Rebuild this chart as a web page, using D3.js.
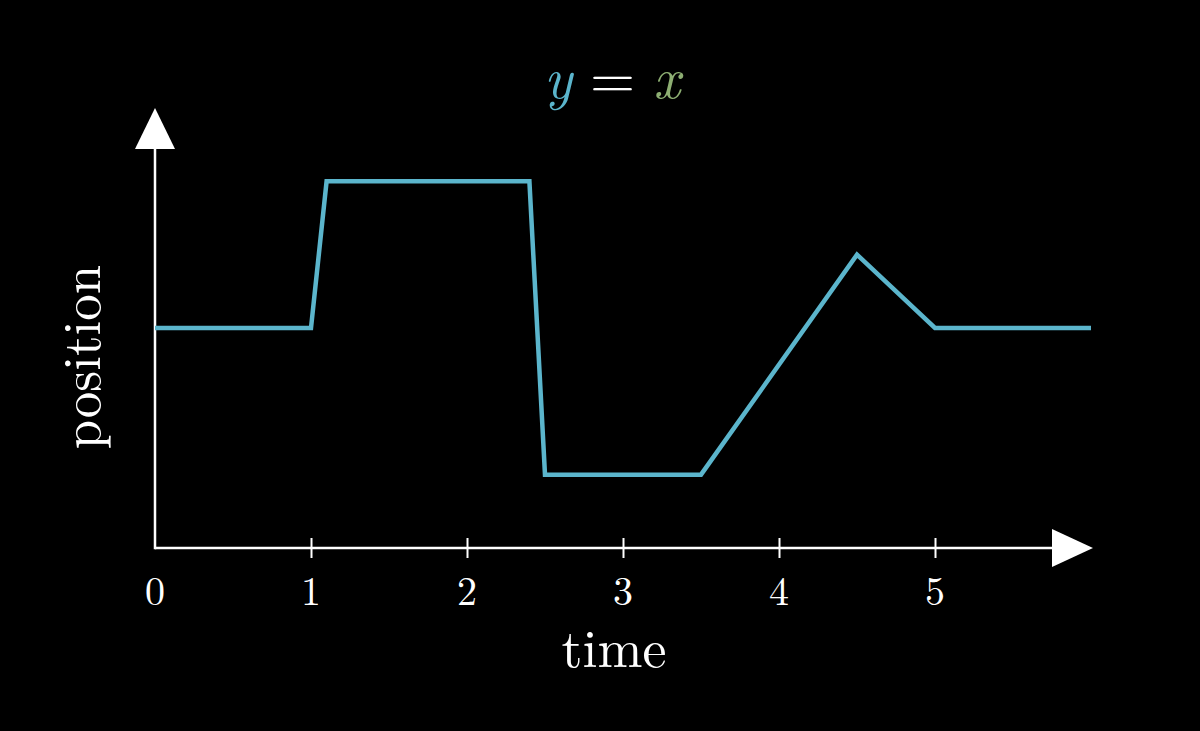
<!DOCTYPE html>
<html><head><meta charset="utf-8">
<script src="https://cdn.jsdelivr.net/npm/d3@7"></script>
<style>html,body{margin:0;padding:0;background:#000;}svg{display:block;}</style>
</head><body>
<svg id="chart" width="1200" height="731"></svg>
<script>
const times = [0, 1, 1.1, 2.4, 2.5, 3.5, 4.5, 5, 6];
const positions = [0, 0, 2, 2, -2, -2, 1, 0, 0];
const xTicks = [0, 1, 2, 3, 4, 5];
const xTickLabels = ["0", "1", "2", "3", "4", "5"];

const svg = d3.select("#chart");
svg.append("rect").attr("width", 1200).attr("height", 731).attr("fill", "#000");

const x = d3.scaleLinear().domain([0, 6]).range([155, 1091]);
const y = d3.scaleLinear().domain([-3, 3]).range([548, 108]);
const serif = "'Latin Modern Roman','CMU Serif','Liberation Serif','DejaVu Serif',serif";

// x axis
const xAxis = d3.axisBottom(x).tickValues(xTicks.slice(1)).tickSize(20).tickFormat("");
const gx = svg.append("g").attr("transform", `translate(0,${y(-3) - 10})`).call(xAxis);
gx.select(".domain").remove();
gx.selectAll(".tick line").attr("stroke", "#fff").attr("stroke-width", 2);

svg.append("line").attr("x1", x(0)).attr("x2", x(6) - 38).attr("y1", y(-3)).attr("y2", y(-3))
  .attr("stroke", "#fff").attr("stroke-width", 2.5);
svg.append("path")
  .attr("d", `M${x(6) + 2},${y(-3)} L${x(6) - 39},${y(-3) - 19} L${x(6) - 39},${y(-3) + 19} Z`)
  .attr("fill", "#fff");

// y axis
svg.append("line").attr("x1", x(0)).attr("x2", x(0)).attr("y1", y(-3) + 1.2).attr("y2", y(3) + 38)
  .attr("stroke", "#fff").attr("stroke-width", 2.5);
svg.append("path")
  .attr("d", `M${x(0)},${y(3)} L${x(0) - 20},${y(3) + 41} L${x(0) + 20},${y(3) + 41} Z`)
  .attr("fill", "#fff");

// tick labels
svg.selectAll(".xl").data(xTicks).enter().append("text")
  .attr("x", d => x(d)).attr("y", 605)
  .attr("text-anchor", "middle")
  .attr("font-family", serif).attr("font-size", 40).attr("fill", "#fff")
  .text((d, i) => xTickLabels[i]);

// axis labels
svg.append("text").attr("x", 614).attr("y", 667).attr("text-anchor", "middle")
  .attr("font-family", serif).attr("font-size", 54).attr("fill", "#fff").text("time");
svg.append("text").attr("transform", "translate(100,357) rotate(-90)").attr("text-anchor", "middle")
  .attr("font-family", serif).attr("font-size", 53).attr("fill", "#fff").text("position");

// title
const title = svg.append("text").attr("x", 612).attr("y", 98).attr("text-anchor", "middle")
  .attr("font-family", serif).attr("font-size", 58);
title.append("tspan").attr("font-style", "italic").attr("fill", "#5BB5CC").text("y");
title.append("tspan").attr("fill", "#fff").attr("dx", 18).text("=");
title.append("tspan").attr("font-style", "italic").attr("fill", "#8DAE72").attr("dx", 18).text("x");

// data line
const line = d3.line().x((d, i) => x(times[i])).y(d => y(d));
svg.append("path").datum(positions).attr("d", line)
  .attr("fill", "none").attr("stroke", "#5BB5CC").attr("stroke-width", 4.5)
  .attr("stroke-linejoin", "miter");
</script>
</body></html>
